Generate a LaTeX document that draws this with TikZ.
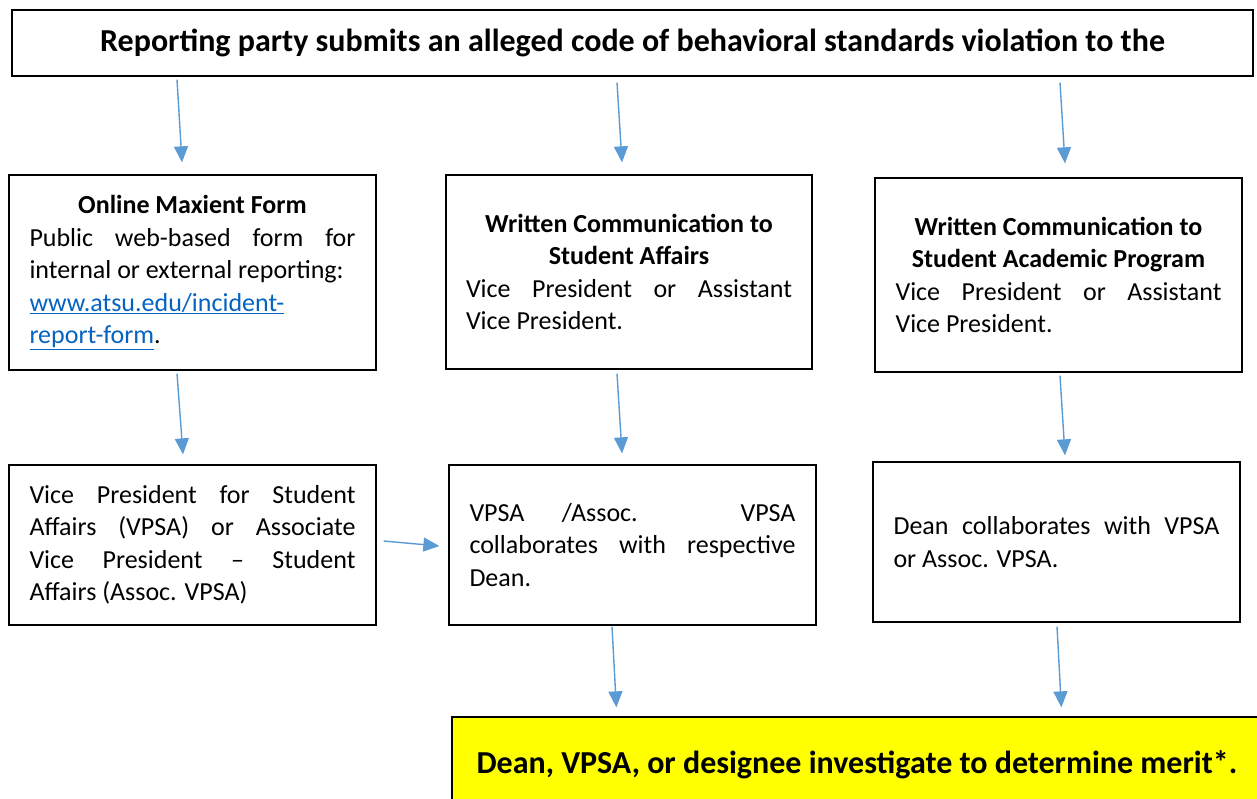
\documentclass[tikz,border=0pt]{standalone}
\usepackage{fontspec}
\setmainfont{Carlito}
\usetikzlibrary{arrows.meta,calc}
\definecolor{arrblue}{HTML}{5B9BD5}
\definecolor{linkblue}{HTML}{0563C1}
\definecolor{hiyellow}{HTML}{FFFF00}
\newcommand{\lnk}[1]{\textcolor{linkblue}{\underline{#1}}}
\newcommand{\nohyph}{\hyphenpenalty=10000\relax\exhyphenpenalty=10000\relax}
\begin{document}
\begin{tikzpicture}[x=1pt,y=-1pt,
  box/.style={draw=black, line width=1.3pt, fill=white, align=justify,
    text width=326pt, inner sep=0pt, minimum width=367pt,
    font=\fontsize{26}{32.5}\selectfont\nohyph},
  arr/.style={draw=arrblue, line width=1.4pt, -{Triangle[length=16pt,width=14pt]}},
  headbox/.style={draw=black, line width=1.3pt, fill=white, align=center,
    inner sep=0pt, font=\bfseries\fontsize{32}{38}\selectfont}]
\useasboundingbox (0,0) rectangle (1257,798);
\fill[white] (0,0) rectangle (1257,798);

\node[headbox, minimum width=1241pt, minimum height=66pt] (top) at (632.5,43)
  {Reporting party submits an alleged code of behavioral standards violation to the};

\node[box, minimum height=195pt] (A) at (192.5,272.5)
  {{\centering\bfseries Online Maxient Form\par}
   Public web-based form for\linebreak internal or external reporting:\\
   \lnk{www.atsu.edu/incident-}\\\lnk{report-form}.};

\node[box, minimum width=366pt, minimum height=194pt] (B) at (629,272)
  {{\centering\bfseries Written Communication to\\ Student Affairs\par}
   Vice President or Assistant\linebreak Vice President.};

\node[box, minimum height=194pt] (C) at (1058.5,275)
  {{\centering\bfseries Written Communication to\\ Student Academic Program\par}
   Vice President or Assistant\linebreak Vice President.};

\node[box, minimum height=160pt] (D) at (192.5,545)
  {Vice President for Student\linebreak Affairs (VPSA) or Associate\linebreak
   Vice President -- Student\linebreak Affairs (Assoc. VPSA)};

\node[box, minimum height=160pt] (E) at (632.5,545)
  {VPSA /Assoc. VPSA\linebreak collaborates with respective\linebreak Dean.};

\node[box, minimum height=160pt] (F) at (1056.5,542)
  {Dean collaborates with VPSA\linebreak or Assoc. VPSA.};

\node[draw=black, line width=1.3pt, fill=hiyellow, minimum width=810pt,
  minimum height=95pt, inner sep=0pt, font=\bfseries\fontsize{32}{38}\selectfont]
  (Y) at (857,764.5) {Dean, VPSA, or designee investigate to determine merit*.};

\draw[arr] ($(top.south)+(-455.5,3)$) -- ($(A.north)+(-10.5,-12)$);
\draw[arr] ($(top.south)+(-15.5,6)$) -- ($(B.north)+(-7,-12)$);
\draw[arr] ($(top.south)+(427.5,6)$) -- ($(C.north)+(6.5,-14)$);
\draw[arr] ($(A.south)+(-15.5,3)$) -- ($(D.north)+(-9.5,-10)$);
\draw[arr] ($(B.south)+(-12,4)$) -- ($(E.north)+(-10.5,-11)$);
\draw[arr] ($(C.south)+(1.5,3)$) -- ($(F.north)+(8.5,-6)$);
\draw[arr] ($(D.east)+(7,-4)$) -- ($(E.west)+(-9,1)$);
\draw[arr] ($(E.south)+(-20.5,1)$) -- ($(Y.north west)+(165,-9)$);
\draw[arr] ($(F.south)+(0.5,4)$) -- ($(Y.north west)+(610,-9)$);
\end{tikzpicture}
\end{document}
